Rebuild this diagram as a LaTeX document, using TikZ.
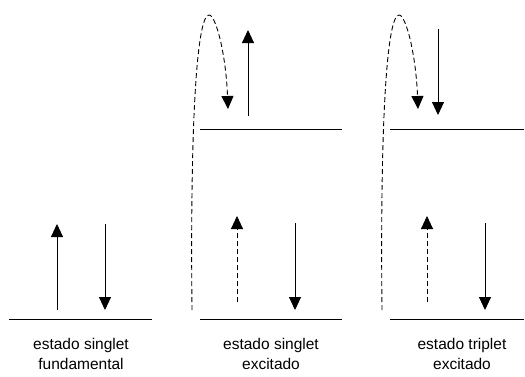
\documentclass[tikz,border=0pt]{standalone}
\usepackage{fontspec}
\setmainfont{Liberation Sans}
\usetikzlibrary{arrows.meta}

\begin{document}
\begin{tikzpicture}[x=1pt, y=-1pt, >={Triangle[length=13pt, width=12pt]},
	level/.style={line width=0.9pt},
	spin/.style={->, line width=0.9pt},
	hop/.style={->, line width=0.9pt, dash pattern=on 5pt off 3pt},
	every node/.style={font=\fontsize{15.5}{20.5}\selectfont, align=center}]
	\useasboundingbox (0,0) rectangle (525,376);
	% estado fundamental
	\begin{scope}
		\draw[level] (9,319) -- (152,319);
		\coordinate (g1) at (57,310); \coordinate (g1t) at (57,224);
		\coordinate (g2) at (105,224); \coordinate (g2t) at (105,310);
		\draw[spin] (g1) -- (g1t);
		\draw[spin] (g2) -- (g2t);
		\node (fund) at (81,354) {estado singlet\\fundamental};
	\end{scope}
	% singlet excitado
	\begin{scope}
		\draw[level] (200,129) -- (342,129);
		\draw[level] (200,319) -- (342,319);
		\coordinate (s0) at (192,310); \coordinate (s0t) at (228,109);
		\draw[hop] (s0) .. controls (190,120) and (197,15) .. (209,15)
			.. controls (216,15) and (226,55) .. (s0t);
		\coordinate (s1) at (248,116); \coordinate (s1t) at (248,30);
		\draw[spin] (s1) -- (s1t);
		\coordinate (s2) at (237,302); \coordinate (s2t) at (237,216);
		\draw[hop] (s2) -- (s2t);
		\coordinate (s3) at (295,223); \coordinate (s3t) at (295,310);
		\draw[spin] (s3) -- (s3t);
		\node (sing) at (271,354) {estado singlet\\excitado};
	\end{scope}
	% triplet excitado
	\begin{scope}
		\draw[level] (390,129) -- (524,129);
		\draw[level] (390,319) -- (524,319);
		\coordinate (t0) at (382,310); \coordinate (t0t) at (418,109);
		\draw[hop] (t0) .. controls (380,120) and (387,15) .. (399,15)
			.. controls (406,15) and (416,55) .. (t0t);
		\coordinate (t1) at (438,29); \coordinate (t1t) at (438,115);
		\draw[spin] (t1) -- (t1t);
		\coordinate (t2) at (427,302); \coordinate (t2t) at (427,216);
		\draw[hop] (t2) -- (t2t);
		\coordinate (t3) at (485,223); \coordinate (t3t) at (485,310);
		\draw[spin] (t3) -- (t3t);
		\node (trip) at (462,354) {estado triplet\\excitado};
	\end{scope}
\end{tikzpicture}
\end{document}
